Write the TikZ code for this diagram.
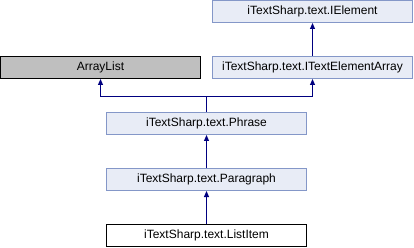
\documentclass[tikz,border=0pt]{standalone}
\usepackage{fontspec}
\setmainfont{Liberation Sans}
\usetikzlibrary{arrows.meta}
\definecolor{boxfill}{HTML}{E8ECF6}
\definecolor{boxedge}{HTML}{8497C8}
\definecolor{edgeblue}{HTML}{000080}
\definecolor{extfill}{HTML}{BFBFBF}
\tikzset{
  cls/.style={draw=boxedge, fill=boxfill, line width=1pt, minimum width=200pt,
    minimum height=22pt, inner sep=0pt, font=\fontsize{12}{14}\selectfont, text=black},
  extcls/.style={cls, draw=black, fill=extfill},
  curcls/.style={cls, draw=black, fill=white},
  inherit/.style={draw=edgeblue, line width=1pt,
    -{Triangle[length=6pt,width=5pt]}}
}
\begin{document}
\begin{tikzpicture}[x=1pt,y=-1pt]
\useasboundingbox (0,0) rectangle (414,248);
\node[cls] (ielem) at (312.5,11.5) {iTextSharp.text.IElement};
\node[cls] (iarr) at (312.5,67.5) {iTextSharp.text.ITextElementArray};
\node[extcls] (alist) at (100.5,67.5) {ArrayList};
\node[cls] (phrase) at (206.5,123.5) {iTextSharp.text.Phrase};
\node[cls] (para) at (206.5,179.5) {iTextSharp.text.Paragraph};
\node[curcls] (item) at (206.5,235.5) {iTextSharp.text.ListItem};
\coordinate (j) at (206.5,97);
\draw[inherit] (iarr.north) -- (ielem.south);
\draw[inherit] (phrase.north) -- (j) -| (alist.south);
\draw[inherit] (j) -| (iarr.south);
\draw[inherit] (para.north) -- (phrase.south);
\draw[inherit] (item.north) -- (para.south);
\end{tikzpicture}
\end{document}
